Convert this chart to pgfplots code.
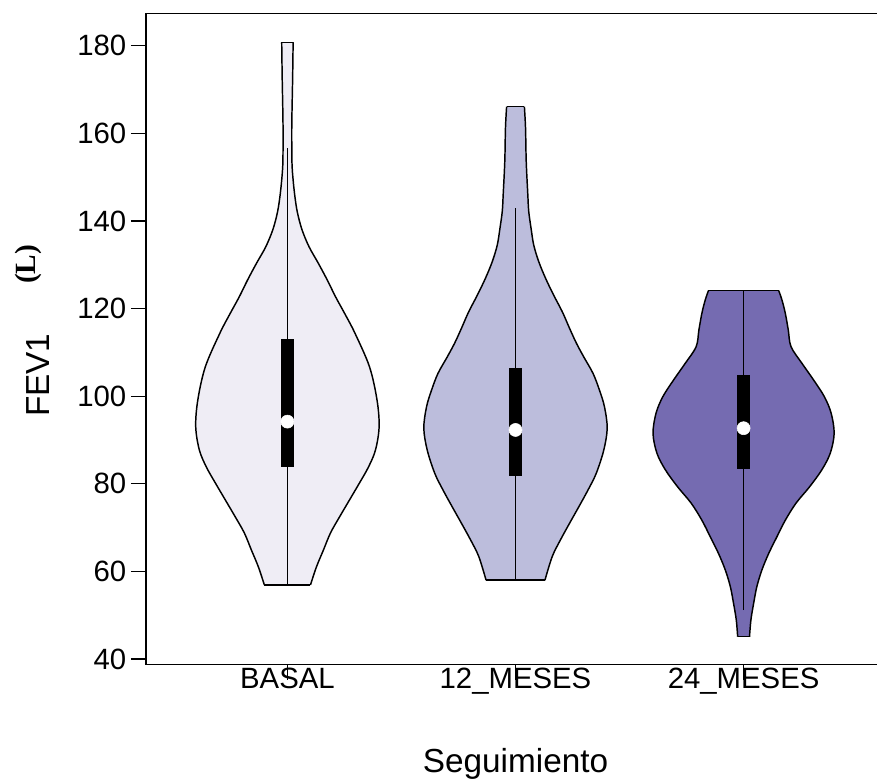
\documentclass[border=0pt]{standalone}
\usepackage{pgfplots}
\pgfplotsset{compat=1.18}
\usepgfplotslibrary{fillbetween}
\usepackage{fontspec}
\setmainfont{Liberation Sans}
\newfontfamily\serifb{Liberation Serif}

\definecolor{pA}{HTML}{EFEDF5}
\definecolor{pB}{HTML}{BCBDDC}
\definecolor{pC}{HTML}{756BB1}

\pgfplotsset{
  vio/.style={black, line width=1.1pt, smooth, tension=0.55},
  edge/.style={black, line width=1.1pt},
  whisk/.style={black, line width=1.2pt},
  boxk/.style={fill=black, draw=none},
  med/.style={only marks, mark=*, mark size=4.9pt, mark options={fill=white, draw=white}},
}

\begin{document}
\begin{tikzpicture}
\begin{axis}[
    set layers,
    at={(0,0)}, anchor=south west,
    scale only axis,
    width=554.25pt, height=488.4pt,
    xmin=0.38, xmax=3.62,
    ymin=38.75, ymax=187.4,
    clip=false,
    axis line style={line width=1.2pt},
    tick style={line width=1pt, black},
    tick align=outside,
    major tick length=11.25pt,
    tick pos=left,
    xtick={1,2,3},
    xticklabels={BASAL,12\_MESES,24\_MESES},
    ytick={40,60,...,180},
    ticklabel style={font=\fontsize{22}{26}\selectfont},
    xticklabel style={anchor=north, yshift=12pt},
    /pgf/number format/assume math mode=true,
    xlabel={Seguimiento},
    xlabel style={font=\fontsize{25}{30}\selectfont, at={(axis description cs:0.5,0)}, anchor=base, yshift=-81.2pt},
]

% BASAL
\addplot[vio, name path=L1] coordinates {
  (0.899,56.9) (0.873,61.0) (0.842,64.9) (0.811,68.8) (0.772,72.4) (0.728,76.3)
  (0.684,80.2) (0.645,83.8) (0.614,87.7) (0.598,93.0) (0.607,99.1) (0.640,106.7)
  (0.704,114.4) (0.746,118.6) (0.789,122.7) (0.825,126.5) (0.865,130.4) (0.905,134.1)
  (0.936,138.0) (0.956,141.9) (0.967,145.5) (0.975,149.4) (0.980,153.3) (0.981,160.8)
  (0.980,164.7) (0.977,173.0) (0.975,180.8)
};
\addplot[vio, name path=R1] coordinates {
  (1.101,56.9) (1.127,61.0) (1.158,64.9) (1.189,68.8) (1.228,72.4) (1.272,76.3)
  (1.316,80.2) (1.355,83.8) (1.386,87.7) (1.402,93.0) (1.393,99.1) (1.360,106.7)
  (1.296,114.4) (1.254,118.6) (1.211,122.7) (1.175,126.5) (1.135,130.4) (1.095,134.1)
  (1.064,138.0) (1.044,141.9) (1.033,145.5) (1.025,149.4) (1.020,153.3) (1.019,160.8)
  (1.020,164.7) (1.023,173.0) (1.025,180.8)
};
\addplot[fill=pA, draw=none] fill between[of=L1 and R1, reverse=true];
\addplot[edge] coordinates {(0.899,56.9) (1.101,56.9)};
\addplot[edge] coordinates {(0.975,180.8) (1.025,180.8)};
\addplot[whisk] coordinates {(1,56.9) (1,156.6)};
\addplot[boxk] coordinates {(0.9715,83.8) (1.0285,83.8) (1.0285,113.0) (0.9715,113.0)} -- cycle;
\addplot[med] coordinates {(1,94.2)};

% 12_MESES
\addplot[vio, name path=L2] coordinates {
  (1.871,58.0) (1.839,63.4) (1.803,67.2) (1.763,71.0) (1.722,74.8) (1.682,78.6)
  (1.646,82.4) (1.613,87.7) (1.598,92.7) (1.610,97.6) (1.632,101.4) (1.660,105.2)
  (1.700,108.9) (1.733,112.1) (1.763,115.5) (1.795,119.3) (1.833,123.1) (1.868,126.9)
  (1.898,130.7) (1.920,134.5) (1.932,138.4) (1.942,142.2) (1.946,146.0) (1.953,153.6)
  (1.956,161.2) (1.961,166.1)
};
\addplot[vio, name path=R2] coordinates {
  (2.129,58.0) (2.161,63.4) (2.197,67.2) (2.237,71.0) (2.278,74.8) (2.318,78.6)
  (2.354,82.4) (2.387,87.7) (2.402,92.7) (2.390,97.6) (2.368,101.4) (2.340,105.2)
  (2.300,108.9) (2.267,112.1) (2.237,115.5) (2.205,119.3) (2.167,123.1) (2.132,126.9)
  (2.102,130.7) (2.080,134.5) (2.068,138.4) (2.058,142.2) (2.054,146.0) (2.047,153.6)
  (2.044,161.2) (2.039,166.1)
};
\addplot[fill=pB, draw=none] fill between[of=L2 and R2, reverse=true];
\addplot[edge] coordinates {(1.871,58.0) (2.129,58.0)};
\addplot[edge] coordinates {(1.961,166.1) (2.039,166.1)};
\addplot[whisk] coordinates {(2,58.0) (2,142.9)};
\addplot[boxk] coordinates {(1.9715,81.8) (2.0285,81.8) (2.0285,106.4) (1.9715,106.4)} -- cycle;
\addplot[med] coordinates {(2,92.3)};

% 24_MESES
\addplot[vio, name path=L3] coordinates {
  (2.974,45.1) (2.968,48.9) (2.956,52.7) (2.942,56.5) (2.920,60.3) (2.890,64.1)
  (2.854,67.9) (2.817,71.7) (2.770,75.6) (2.711,79.3) (2.657,83.2) (2.620,87.0)
  (2.603,91.5) (2.616,96.1) (2.646,99.9) (2.693,103.7) (2.744,107.5) (2.792,111.3)
  (2.804,115.1) (2.817,118.9) (2.832,122.0) (2.846,124.1)
};
\addplot[vio, name path=R3] coordinates {
  (3.026,45.1) (3.032,48.9) (3.044,52.7) (3.058,56.5) (3.080,60.3) (3.110,64.1)
  (3.146,67.9) (3.183,71.7) (3.230,75.6) (3.289,79.3) (3.343,83.2) (3.380,87.0)
  (3.397,91.5) (3.384,96.1) (3.354,99.9) (3.307,103.7) (3.256,107.5) (3.208,111.3)
  (3.196,115.1) (3.183,118.9) (3.168,122.0) (3.154,124.1)
};
\addplot[fill=pC, draw=none] fill between[of=L3 and R3, reverse=true];
\addplot[edge] coordinates {(2.974,45.1) (3.026,45.1)};
\addplot[edge] coordinates {(2.846,124.1) (3.154,124.1)};
\addplot[whisk] coordinates {(3,51.2) (3,124.1)};
\addplot[boxk] coordinates {(2.9715,83.4) (3.0285,83.4) (3.0285,104.9) (2.9715,104.9)} -- cycle;
\addplot[med] coordinates {(3,92.7)};

% y label: FEV1 and (L)
\node[rotate=90, anchor=base, font=\fontsize{25}{30}\selectfont] at (axis cs:-0.045,104.8) {FEV1};
\node[rotate=90, anchor=center, font=\fontsize{22}{26}\selectfont\serifb\bfseries] at (axis cs:-0.137,130.1) {(L)};
\end{axis}
\pgfresetboundingbox
\path[use as bounding box] (-109.5pt,-88.9pt) rectangle (548.25pt,498.4pt);
\end{tikzpicture}
\end{document}
